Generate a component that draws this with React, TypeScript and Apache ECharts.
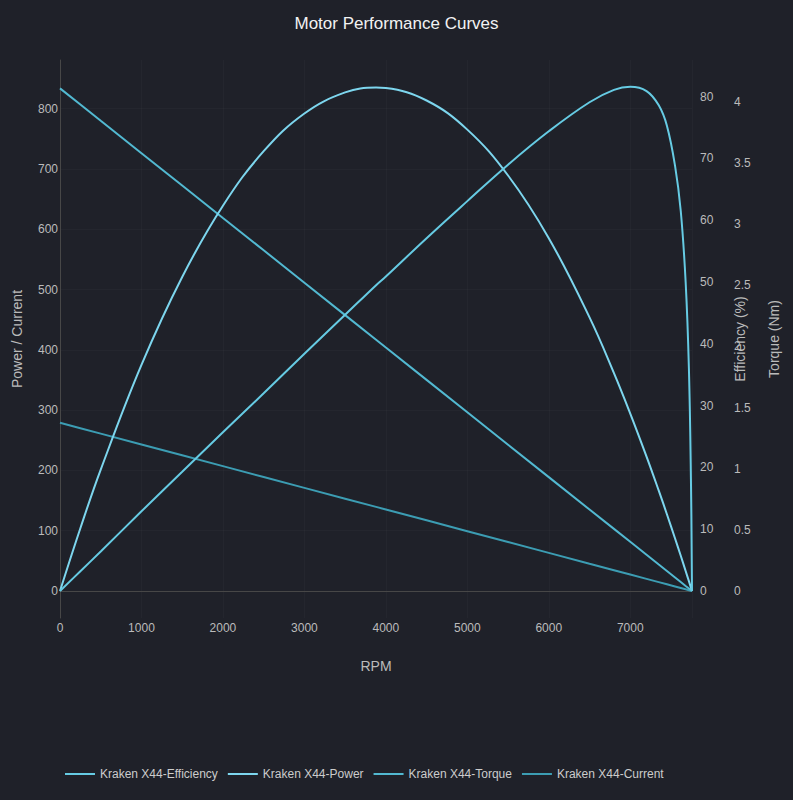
import React, { useEffect, useRef } from "react";
import * as echarts from "echarts";

const seriesNames = [
  "Kraken X44-Efficiency",
  "Kraken X44-Power",
  "Kraken X44-Torque",
  "Kraken X44-Current",
];

const rpm = [0, 250, 500, 1000, 1500, 2000, 2500, 3000, 3500, 3880, 4000, 4500, 5000, 5500, 6000, 6500, 6800, 7000, 7200, 7350, 7450, 7550, 7620, 7680, 7720, 7745, 7758];

const efficiency = [0, 3.2, 6.4, 12.9, 19.3, 25.7, 32.0, 38.4, 44.7, 49.5, 50.9, 57.1, 63.1, 69.0, 74.4, 79.1, 81.1, 81.6, 80.9, 78.6, 75.3, 68.8, 61.5, 50.0, 36.0, 18.0, 0];

const power = [0, 104.1, 201.4, 375.0, 520.9, 639.1, 729.5, 792.1, 827.0, 835.0, 834.2, 813.6, 765.3, 689.2, 585.3, 453.8, 361.5, 294.4, 223.0, 166.4, 127.3, 87.1, 58.4, 33.2, 16.3, 5.6, 0];

const torque = [4.11, 3.978, 3.845, 3.580, 3.315, 3.050, 2.786, 2.521, 2.256, 2.055, 1.991, 1.726, 1.461, 1.196, 0.931, 0.666, 0.508, 0.402, 0.296, 0.216, 0.163, 0.110, 0.073, 0.041, 0.020, 0.007, 0];

const current = [279, 270.0, 261.0, 243.0, 225.1, 207.1, 189.1, 171.1, 153.1, 139.5, 135.2, 117.2, 99.2, 81.2, 63.2, 45.2, 34.5, 27.3, 20.1, 14.7, 11.1, 7.48, 4.96, 2.81, 1.37, 0.47, 0];

const leftTicks = [0, 100, 200, 300, 400, 500, 600, 700, 800];
const effTicks = [0, 10, 20, 30, 40, 50, 60, 70, 80];
const torqueTicks = [0, 0.5, 1, 1.5, 2, 2.5, 3, 3.5, 4];

const colors = ["#66cbe3", "#7dd6ee", "#52b9d1", "#3c9db3"];

const pair = (ys: number[]) => rpm.map((r, i) => [r, ys[i]]);

export default function App() {
  const ref = useRef<HTMLDivElement>(null);
  useEffect(() => {
    document.body.style.margin = "0";
    const chart = echarts.init(ref.current!, null, { renderer: "svg" });
    const labelColor = "#bbbbbb";
    const axisColor = "#474747";
    const gridColor = "rgba(255,255,255,0.025)";
    const font = "Liberation Sans, Arial, sans-serif";
    const option: any = {
      animation: false,
      backgroundColor: "#1f2129",
      color: colors,
      textStyle: { fontFamily: font },
      title: {
        text: "Motor Performance Curves",
        left: "center",
        top: 10,
        textStyle: { color: "#f2f2f2", fontSize: 17, fontWeight: "normal", fontFamily: font },
      },
      legend: {
        data: seriesNames,
        top: 763,
        left: 60,
        icon: "rect",
        itemWidth: 30,
        itemHeight: 2,
        itemGap: 10,
        textStyle: { color: "#cccccc", fontSize: 12, fontFamily: font },
      },
      grid: { left: 60, right: 101, top: 60, bottom: 182 },
      xAxis: {
        type: "value",
        min: 0,
        max: 7758,
        interval: 1000,
        name: "RPM",
        nameLocation: "middle",
        nameGap: 41,
        nameTextStyle: { color: labelColor, fontSize: 14, fontFamily: font },
        axisLine: { show: true, onZero: true, lineStyle: { color: axisColor, width: 1 } },
        axisTick: { show: false },
        axisLabel: {
          color: labelColor,
          fontSize: 12,
          margin: 4,
          showMaxLabel: false,
          fontFamily: font,
          formatter: (v: number) => String(v),
        },
        splitLine: { show: true, lineStyle: { color: gridColor, width: 1 } },
      },
      yAxis: [
        {
          type: "value",
          position: "left",
          min: -44.8,
          max: 880.8,
          name: "Power / Current",
          nameLocation: "middle",
          nameGap: 36,
          nameTextStyle: { color: labelColor, fontSize: 14, fontFamily: font },
          axisLine: { show: true, onZero: false, lineStyle: { color: axisColor, width: 1 } },
          axisTick: { show: false },
          axisLabel: { color: labelColor, fontSize: 12, margin: 2, customValues: leftTicks, fontFamily: font },
          splitLine: { show: false },
        },
        {
          type: "value",
          position: "right",
          min: -4.37,
          max: 85.94,
          name: "Efficiency (%)",
          nameLocation: "middle",
          nameGap: 41,
          nameTextStyle: { color: labelColor, fontSize: 14, fontFamily: font },
          axisLine: { show: false },
          axisTick: { show: false },
          axisLabel: { color: labelColor, fontSize: 12, margin: 8, customValues: effTicks, fontFamily: font },
          splitLine: { show: false },
        },
        {
          type: "value",
          position: "right",
          offset: 34,
          min: -0.221,
          max: 4.342,
          name: "Torque (Nm)",
          nameLocation: "middle",
          nameGap: 41,
          nameTextStyle: { color: labelColor, fontSize: 14, fontFamily: font },
          axisLine: { show: false },
          axisTick: { show: false },
          axisLabel: { color: labelColor, fontSize: 12, margin: 8, customValues: torqueTicks, fontFamily: font },
          splitLine: { show: false },
        },
      ],
      series: [
        {
          name: seriesNames[0],
          type: "line",
          yAxisIndex: 1,
          data: pair(efficiency),
          symbol: "none",
          smooth: 0.4,
          lineStyle: { width: 2, color: colors[0] },
          itemStyle: { color: colors[0] },
          z: 4,
        },
        {
          name: seriesNames[1],
          type: "line",
          yAxisIndex: 0,
          data: pair(power),
          symbol: "none",
          smooth: 0.4,
          lineStyle: { width: 2, color: colors[1] },
          itemStyle: { color: colors[1] },
          z: 3,
          markLine: {
            silent: true,
            symbol: ["none", "none"],
            label: { show: false },
            lineStyle: { color: gridColor, width: 1, type: "solid" },
            data: leftTicks.filter((v) => v > 0).map((v) => ({ yAxis: v })),
            z: 0,
          },
        },
        {
          name: seriesNames[2],
          type: "line",
          yAxisIndex: 2,
          data: pair(torque),
          symbol: "none",
          lineStyle: { width: 2, color: colors[2] },
          itemStyle: { color: colors[2] },
          z: 2,
        },
        {
          name: seriesNames[3],
          type: "line",
          yAxisIndex: 0,
          data: pair(current),
          symbol: "none",
          lineStyle: { width: 2, color: colors[3] },
          itemStyle: { color: colors[3] },
          z: 1,
        },
      ],
    };
    chart.setOption(option);
    return () => chart.dispose();
  }, []);
  return <div ref={ref} style={{ width: 793, height: 800 }} />;
}
